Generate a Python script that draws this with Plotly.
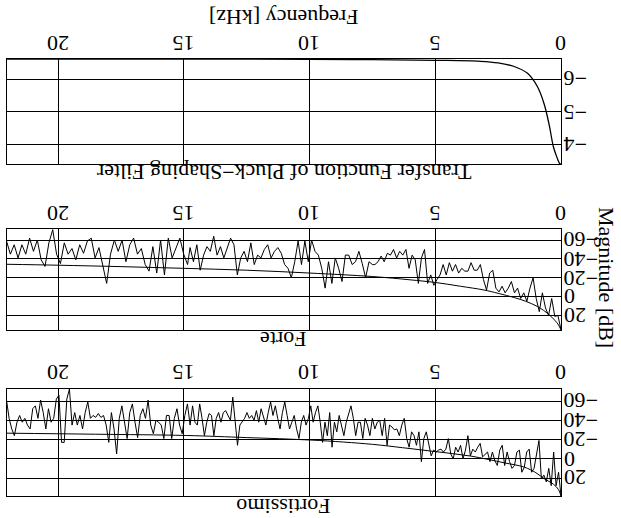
import numpy as np
import plotly.graph_objects as go

# ---------------- data ----------------
freq_ticks = [0, 5, 10, 15, 20]
freq_ticktext = ["0", "5", "10", "15", "20"]
db_ticks = [-60, -40, -20, 0, 20]
db_ticktext = ["\u221260", "\u221240", "\u221220", "0", "20"]
filt_ticks = [-6, -5, -4]
filt_ticktext = ["\u22126", "\u22125", "\u22124"]

# Transfer function of pluck-shaping filter
filt_f = [0, 0.05, 0.15, 0.3, 0.47, 0.67, 0.93, 1.33, 1.86, 2.5, 3.2, 5.0, 7.5, 10.0, 15.0, 22.05]
filt_v = [-3.4, -3.41, -3.58, -3.92, -4.6, -5.24, -5.76, -6.18, -6.39, -6.5, -6.55, -6.58, -6.6, -6.612, -6.618, -6.62]

# Forte spectrum, three frequency spans read from high to low frequency
forte_hi_span = (22.05, 14.85)
forte_hi = [-59, -45, -55, -41, -55, -45, -62, -48, -60, -39, -32, -57, -71, -45, -35, -57,
            -45, -51, -39, -55, -46, -59, -62, -41, -52, -34, -14, -45, -60, -48, -60, -37,
            -55, -62, -45, -51, -34, -27, -53, -25, -60, -23, -62, -41, -52, -62, -45, -34]
forte_mid_span = (14.75, 7.5)
forte_mid = [-52, -37, -55, -28, -44, -53, -48, -64, -44, -53, -41, -52, -62, -55, -23, -41,
             -48, -37, -57, -34, -44, -41, -50, -55, -41, -48, -52, -46, -34, -30, -20, -37,
             -59, -34, -59, -37, -60, -48, -44, -30, -9, -37, -14, -41, -30, -16, -44, -44,
             -34, -37, -48, -35, -20, -37, -34]
forte_lo_span = (7.4, 0.0)
forte_lo = [-34, -37, -43, -37, -46, -44, -50, -41, -48, -44, -50, -30, -44, -39, -14, -41,
            -50, -14, -23, -12, -18, -23, -34, -23, -36, -27, -34, -25, -30, -27, -27, -36,
            -28, -28, -34, -18, -7, -25, -28, -9, -5, -11, -4, -9, -16, -4, -9, 2, -4, 5,
            -9, -20, 2, 16, -4, 12, 20, 2, 21, 20, 35]

forte_env_f = [0, 0.1, 0.25, 0.5, 0.93, 1.4, 1.86, 2.5, 3.06, 4.0, 5.0, 6.0, 7.5, 10.0, 12.5, 15.0, 17.5, 20.0, 22.05]
forte_env_db = [35.4, 30, 25, 18.5, 10.6, 5, 1, -3.5, -7, -11, -15, -17.8, -21.3, -25, -28, -30, -31.8, -33.3, -34.3]

# Fortissimo spectrum
ff_hi_span = (22.05, 14.75)
ff_hi = [-61, -42, -31, -24, -38, -45, -38, -42, -35, -31, -52, -55, -42, -61, -48, -31,
         -52, -38, -42, -62, -66, -17, -17, -62, -72.5, -35, -48, -35, -45, -31, -48, -59,
         -42, -45, -43, -47, -43, -45, -35, -17, -48, -31, -5, -42, -55, -38, -21, -48,
         -57, -38, -22, -45, -52, -42, -61, -35, -26, -40, -38, -35, -21, -45, -45, -21,
         -42, -52, -35, -26, -45, -57, -35]
ff_mid_span = (14.65, 7.6)
ff_mid = [-55, -38, -35, -57, -42, -24, -38, -47, -45, -24, -42, -48, -38, -48, -50, -45,
          -40, -64, -35, -14, -35, -38, -42, -48, -42, -45, -40, -50, -38, -52, -42, -35,
          -48, -59, -45, -55, -42, -31, -48, -59, -45, -31, -38, -45, -31, -21, -38, -45,
          -35, -42, -55, -38, -48, -55, -38, -17, -38, -24, -48, -12, -38, -28, -45, -35,
          -24, -38, -48, -55, -42, -24, -38, -38, -21, -42, -35, -24]
ff_lo_span = (7.5, 0.0)
ff_lo = [-42, -31, -38, -40, -24, -42, -14, -35, -33, -30, -31, -24, -35, -42, -21, -12,
         -28, -24, -14, -28, 3, -21, -28, -14, -3, -9, -7, -9, -10, -7, -10, -21, -5, 0,
         -12, -7, -14, 0, -9, -24, -3, -10, -7, -12, -16, -2, -5, -7, 3, -7, 2, 7, -9,
         -14, 7, -7, 3, 10, 7, -7, -9, 14, 9, -7, -10, 14, 10, -3, -19, 21, 17, 24, 10,
         28, -7, 28, 14, 38.7]

ff_env_f = [0, 0.1, 0.3, 0.66, 1.0, 1.46, 2.26, 3.59, 5.05, 6.3, 7.5, 9.9, 12.5, 14.9, 18.5, 22.05]
ff_env_db = [38.7, 32, 26.5, 20.8, 14.5, 8.7, 4.2, -2.8, -7.6, -11.5, -15, -19.4, -22, -24.2, -25.5, -26.6]

titles = ["Transfer Function of Pluck\u2212Shaping Filter", "Forte", "Fortissimo"]
xlabel = "Frequency [kHz]"
ylabel = "Magnitude [dB]"


def spans(*parts):
    xs, ys = [], []
    for (a, b), vals in parts:
        xs.extend(np.linspace(a, b, len(vals)).tolist())
        ys.extend(vals)
    return xs, ys


forte_x, forte_y = spans((forte_hi_span, forte_hi), (forte_mid_span, forte_mid), (forte_lo_span, forte_lo))
ff_x, ff_y = spans((ff_hi_span, ff_hi), (ff_mid_span, ff_mid), (ff_lo_span, ff_lo))

# ---------------- figure ----------------
W, H = 621, 518
FONT = "Liberation Serif"
FS = 22
line = dict(color="black", width=1)

fig = go.Figure()
fig.add_trace(go.Scatter(x=filt_f, y=filt_v, mode="lines", line=dict(color="black", width=1.3),
                         xaxis="x", yaxis="y", line_shape="spline"))
fig.add_trace(go.Scatter(x=forte_x, y=forte_y, mode="lines", line=line, xaxis="x2", yaxis="y2"))
fig.add_trace(go.Scatter(x=forte_env_f, y=forte_env_db, mode="lines", line=line, line_shape="spline",
                         xaxis="x2", yaxis="y2"))
fig.add_trace(go.Scatter(x=ff_x, y=ff_y, mode="lines", line=line, xaxis="x3", yaxis="y3"))
fig.add_trace(go.Scatter(x=ff_env_f, y=ff_env_db, mode="lines", line=line, line_shape="spline",
                         xaxis="x3", yaxis="y3"))

x_left, x_right = 6.5, 561
xdom = [x_left / W, x_right / W]
boxes = [(59, 164), (229, 330), (389, 496)]
yranges = [[-3.4, -6.62], [35.4, -71.7], [38.7, -72.5]]
yticks = [(filt_ticks, filt_ticktext), (db_ticks, db_ticktext), (db_ticks, db_ticktext)]

axcommon = dict(showgrid=True, gridcolor="black", gridwidth=1, showline=True, linecolor="black",
                linewidth=1.3, mirror=True, zeroline=False, ticks="", showticklabels=False,
                fixedrange=True)

layout = dict(width=W, height=H, margin=dict(l=0, r=0, t=0, b=0), showlegend=False,
              paper_bgcolor="white", plot_bgcolor="white", font=dict(family=FONT, color="black"))
for i, ((top, bot), yr, (tv, tt)) in enumerate(zip(boxes, yranges, yticks)):
    sfx = "" if i == 0 else str(i + 1)
    layout["xaxis" + sfx] = dict(domain=xdom, range=[22.05, 0], tickvals=freq_ticks,
                                 anchor="y" + sfx, **axcommon)
    layout["yaxis" + sfx] = dict(domain=[1 - bot / H, 1 - top / H], range=yr,
                                 tickvals=tv, anchor="x" + sfx, **axcommon)

fig.update_layout(**layout)

font = dict(family=FONT, size=FS, color="black")
ann = []
# tick labels (upside down, like the rest of the figure)
for i, ((top, bot), (tv, tt)) in enumerate(zip(boxes, yticks)):
    sfx = "" if i == 0 else str(i + 1)
    for v, t in zip(freq_ticks, freq_ticktext):
        ann.append(dict(text=t, x=v, xref="x" + sfx, y=1 - (top - 16) / H, yref="paper",
                        showarrow=False, xanchor="center", yanchor="middle", textangle=180, font=font))
    for v, t in zip(tv, tt):
        ann.append(dict(text=t, x=(x_right + 1) / W, xref="paper", y=v, yref="y" + sfx,
                        showarrow=False, xanchor="left", yanchor="middle", textangle=180, font=font))

cx = (xdom[0] + xdom[1]) / 2
for t, ypx in zip(titles, [173, 340, 507]):
    ann.append(dict(text=t, x=cx, y=1 - ypx / H, xref="paper", yref="paper", showarrow=False,
                    xanchor="center", yanchor="middle", textangle=180, font=font))
ann.append(dict(text=xlabel, x=cx, y=1 - 18 / H, xref="paper", yref="paper", showarrow=False,
                xanchor="center", yanchor="middle", textangle=180, font=font))
ann.append(dict(text=ylabel, x=607 / W, y=1 - 277 / H, xref="paper", yref="paper", showarrow=False,
                xanchor="center", yanchor="middle", textangle=90, font=font))
fig.update_layout(annotations=ann)

fig.write_html("out.html", config={"displayModeBar": False},
               post_script="document.body.style.margin='0px';")
